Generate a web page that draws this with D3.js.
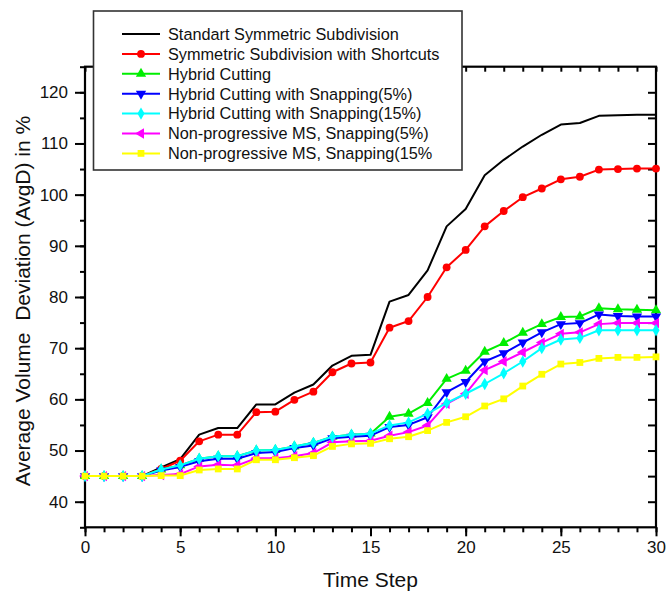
<!DOCTYPE html>
<html>
<head>
  <meta charset="utf-8">
  <script src="https://d3js.org/d3.v7.min.js"></script>
  <style>
    body { margin: 0; background: #fff; }
    text { font-family: "Liberation Sans", Arial, sans-serif; fill: #111; }
  </style>
</head>
<body>
<script>
  "use strict";

  // time steps 0..30
  var steps = d3.range(0, 31);

  var standard  = [45,45,45,45,46.7,48.3,53.1,54.4,54.4,59.0,59.0,61.3,62.9,66.6,68.5,68.7,79.1,80.4,85.2,93.8,97.2,103.8,106.8,109.4,111.7,113.7,114.0,115.4,115.5,115.6,115.6];
  var shortcuts = [45,45,45,45,46.4,48.0,51.8,53.1,53.1,57.5,57.6,59.9,61.5,65.3,67.0,67.2,74.0,75.3,80.0,85.8,89.2,93.8,96.8,99.5,101.2,103.0,103.5,104.9,105.0,105.1,105.1];
  var hybrid    = [45,45,45,45,46.3,47.1,48.4,48.9,48.9,50.0,50.1,50.8,51.5,52.7,53.1,53.3,56.6,57.2,59.3,64.0,65.6,69.3,71.0,73.0,74.7,76.1,76.2,77.8,77.6,77.5,77.4];
  var snap5     = [45,45,45,45,46.1,46.8,47.9,48.4,48.4,49.5,49.7,50.5,51.0,52.4,52.7,52.9,54.6,55.0,56.5,61.4,63.4,67.4,69.0,71.1,73.1,74.7,74.9,76.6,76.3,76.2,76.2];
  var snap15    = [45,45,45,45,46.3,47.1,48.4,48.9,48.9,50.0,50.1,50.8,51.5,52.7,53.1,53.3,54.9,55.5,57.2,59.3,61.1,63.0,65.1,67.4,70.0,71.7,72.0,73.5,73.5,73.5,73.5];
  var np5       = [45,45,45,45,45.2,45.4,46.9,47.2,47.1,48.5,48.5,48.9,49.5,51.6,51.8,51.9,52.9,53.6,54.9,59.1,61.1,65.7,67.4,69.2,71.1,72.8,73.1,74.7,74.9,74.9,74.9];
  var np15      = [45,45,45,45,45.1,45.1,46.2,46.4,46.4,48.2,48.2,48.6,49.0,50.8,51.3,51.4,52.3,52.7,53.9,55.5,56.6,58.7,60.1,62.6,64.9,66.9,67.2,68.0,68.2,68.2,68.3];

  var seriesNames = [
    "Standart Symmetric Subdivision",
    "Symmetric Subdivision with Shortcuts",
    "Hybrid Cutting",
    "Hybrid Cutting with Snapping(5%)",
    "Hybrid Cutting with Snapping(15%)",
    "Non-progressive MS, Snapping(5%)",
    "Non-progressive MS, Snapping(15%"
  ];
  var seriesValues = [standard, shortcuts, hybrid, snap5, snap15, np5, np15];
  var seriesColors = ["#000000", "#ff0000", "#00ee00", "#0000ff", "#00ffff", "#ff00ff", "#ffff00"];
  var seriesMarkers = ["none", "circle", "up", "down", "diamond", "left", "square"];
  // drawing order (yellow ends on top)
  var drawOrder = [0, 1, 2, 3, 5, 4, 6];

  var xTicks = [0, 5, 10, 15, 20, 25, 30];
  var yTicks = [40, 50, 60, 70, 80, 90, 100, 110, 120];

  var W = 667, H = 596;
  var pLeft = 85, pRight = 656, pTop = 66.7, pBottom = 527.3;

  var svg = d3.select("body").append("svg")
    .attr("width", W).attr("height", H);

  var x = d3.scaleLinear().domain([0, 30]).range([pLeft, pRight]);
  var y = d3.scaleLinear().domain([35, 125]).range([pBottom, pTop]);

  // axes
  var minorX = d3.range(0, 31);
  var minorY = d3.range(35, 126, 5);

  function thick(g) { g.select(".domain").remove(); g.selectAll("line").attr("stroke-width", 2); }

  svg.append("g").attr("transform", "translate(0," + pBottom + ")")
    .call(d3.axisBottom(x).tickValues(minorX).tickSize(5).tickFormat(""))
    .call(thick);
  svg.append("g").attr("transform", "translate(0," + pBottom + ")")
    .call(d3.axisBottom(x).tickValues(xTicks).tickSize(9).tickPadding(5).tickFormat(d3.format("d")))
    .call(function (g) {
      thick(g);
      g.selectAll("text").attr("font-size", 17).style("font-family", "Liberation Sans, Arial");
    });

  svg.append("g").attr("transform", "translate(" + pLeft + ",0)")
    .call(d3.axisLeft(y).tickValues(minorY).tickSize(5).tickFormat(""))
    .call(thick);
  svg.append("g").attr("transform", "translate(" + pLeft + ",0)")
    .call(d3.axisLeft(y).tickValues(yTicks).tickSize(10).tickPadding(7).tickFormat(d3.format("d")))
    .call(function (g) {
      thick(g);
      g.selectAll("text").attr("font-size", 17).style("font-family", "Liberation Sans, Arial");
    });

  // mirror axes with inward ticks
  svg.append("g").attr("transform", "translate(0," + pTop + ")")
    .call(d3.axisTop(x).tickValues(minorX).tickSize(-5).tickFormat(""))
    .call(thick);
  svg.append("g").attr("transform", "translate(" + pRight + ",0)")
    .call(d3.axisRight(y).tickValues(minorY.filter(function (v) { return v > 35 && v < 125; })).tickSize(-8).tickFormat(""))
    .call(thick);

  // frame
  svg.append("rect")
    .attr("x", pLeft).attr("y", pTop)
    .attr("width", pRight - pLeft).attr("height", pBottom - pTop)
    .attr("fill", "none").attr("stroke", "#000").attr("stroke-width", 2.2);

  // markers
  function marker(sel, type, color) {
    var sym;
    if (type === "circle") sym = d3.symbol(d3.symbolCircle, 48);
    else if (type === "up" || type === "down" || type === "left") sym = d3.symbol(d3.symbolTriangle, 46);
    else if (type === "diamond") sym = d3.symbol(d3.symbolDiamond, 44);
    else if (type === "square") sym = d3.symbol(d3.symbolSquare, 46);
    else return;
    var rot = type === "down" ? 180 : (type === "left" ? -90 : 0);
    sel.append("path")
      .attr("d", sym)
      .attr("transform", function (d) { return "translate(" + d.cx + "," + d.cy + ") rotate(" + rot + ")"; })
      .attr("fill", color);
  }

  var line = d3.line().x(function (d, i) { return x(steps[i]); }).y(function (d) { return y(d); });

  drawOrder.forEach(function (k) {
    var g = svg.append("g");
    g.append("path")
      .datum(seriesValues[k])
      .attr("d", line)
      .attr("fill", "none")
      .attr("stroke", seriesColors[k])
      .attr("stroke-width", 2)
      .attr("stroke-linejoin", "round");
    var pts = g.selectAll("g.pt")
      .data(seriesValues[k].map(function (v, i) { return { cx: x(steps[i]), cy: y(v) }; }))
      .enter().append("g").attr("class", "pt");
    marker(pts, seriesMarkers[k], seriesColors[k]);
  });

  // legend
  var lg = svg.append("g");
  lg.append("rect")
    .attr("x", 93.5).attr("y", 11).attr("width", 368.5).attr("height", 159)
    .attr("fill", "#fff").attr("stroke", "#333").attr("stroke-width", 1.6);

  seriesNames.forEach(function (name, k) {
    var ly = 34 + k * 19.9;
    lg.append("line")
      .attr("x1", 122).attr("x2", 160).attr("y1", ly).attr("y2", ly)
      .attr("stroke", seriesColors[k]).attr("stroke-width", 2);
    var m = lg.append("g").datum({ cx: 141, cy: ly });
    marker(m, seriesMarkers[k], seriesColors[k]);
    lg.append("text")
      .attr("x", 168).attr("y", ly + 5.8)
      .attr("font-size", 16.3)
      .text(name);
  });

  // axis titles
  svg.append("text")
    .attr("x", (pLeft + pRight) / 2).attr("y", 587)
    .attr("text-anchor", "middle")
    .attr("font-size", 21)
    .text("Time Step");

  svg.append("text")
    .attr("transform", "translate(30," + ((pTop + pBottom) / 2 + 4) + ") rotate(-90)")
    .attr("text-anchor", "middle")
    .attr("font-size", 21)
    .style("white-space", "pre")
    .text("Average Volume  Deviation (AvgD) in %");
</script>
</body>
</html>
